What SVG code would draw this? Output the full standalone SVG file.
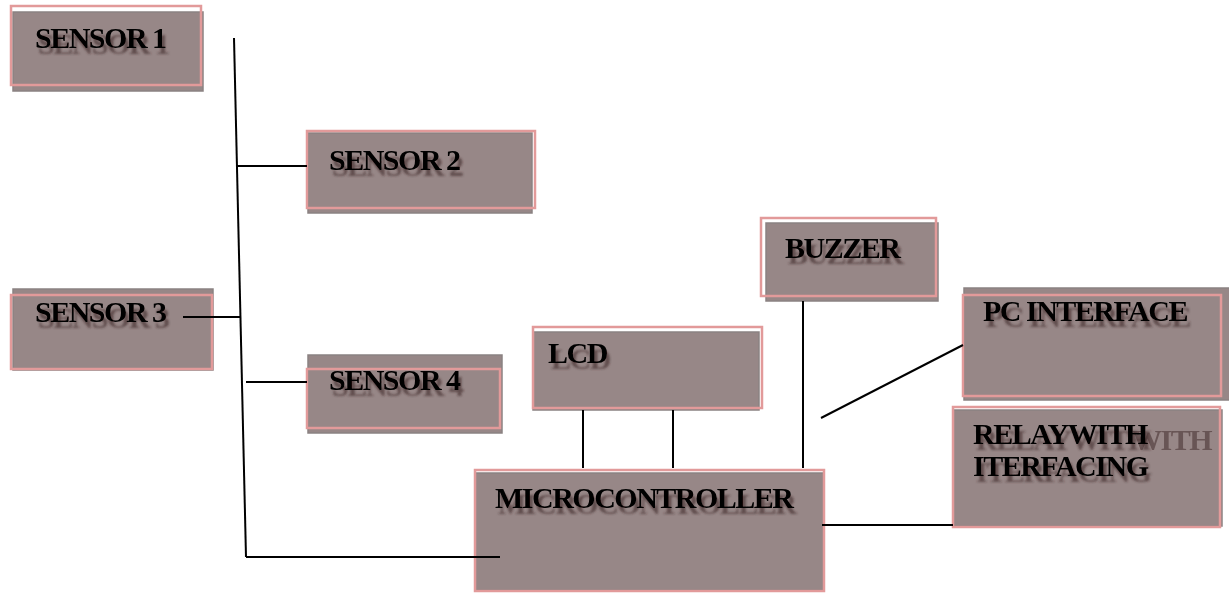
<svg xmlns="http://www.w3.org/2000/svg" width="1229" height="593" viewBox="0 0 1229 593">
<defs>
<filter id="ts" x="-10%" y="-30%" width="130%" height="180%">
<feDropShadow dx="3" dy="6" stdDeviation="1.2" flood-color="#3a2626" flood-opacity="0.6"/>
</filter>
</defs>
<style>
.bg{fill:#978787;stroke:#8a8282;stroke-width:1.5}
.ol{fill:none;stroke:#e29a9a;stroke-width:2.5}
.t{font-family:"Liberation Serif","Times New Roman",serif;font-weight:bold;font-size:30px;letter-spacing:-1.5px;fill:#000;filter:url(#ts)}
.s{font-family:"Liberation Serif","Times New Roman",serif;font-weight:bold;font-size:30px;letter-spacing:-1.5px;fill:#4a3434;opacity:0.6}
.c{stroke:#000;stroke-width:2;fill:none}
</style>
<rect width="1229" height="593" fill="#fff"/>
<g id="sensor1">
<rect class="bg" x="13" y="12" width="190" height="79"/>
<rect class="ol" x="11" y="6" width="190" height="79"/>
<text class="t" x="35" y="48">SENSOR 1</text>
</g>
<g id="sensor2">
<rect class="bg" x="308" y="133" width="224" height="80"/>
<rect class="ol" x="307" y="131" width="228" height="77"/>
<text class="t" x="329" y="170">SENSOR 2</text>
</g>
<g id="sensor3">
<rect class="bg" x="13" y="289" width="200" height="81"/>
<rect class="ol" x="11" y="295" width="201" height="74"/>
<text class="t" x="35" y="322">SENSOR 3</text>
</g>
<g id="sensor4">
<rect class="bg" x="308" y="355" width="194" height="78"/>
<rect class="ol" x="307" y="369" width="193" height="59"/>
<text class="t" x="329" y="390">SENSOR 4</text>
</g>
<g id="lcd">
<rect class="bg" x="533" y="332" width="226" height="78"/>
<rect class="ol" x="533" y="327" width="229" height="81"/>
<text class="t" x="548" y="363">LCD</text>
</g>
<g id="buzzer">
<rect class="bg" x="766" y="223" width="172" height="78"/>
<rect class="ol" x="761" y="218" width="175" height="78"/>
<text class="t" x="785" y="258">BUZZER</text>
</g>
<g id="pc-interface">
<rect class="bg" x="964" y="288" width="266" height="112"/>
<rect class="ol" x="963" y="295" width="258" height="101"/>
<text class="t" x="983" y="321">PC INTERFACE</text>
</g>
<g id="relay">
<rect class="bg" x="953" y="410" width="269" height="116"/>
<rect class="ol" x="953" y="407" width="267" height="120"/>
<text class="s" x="1132" y="450">WITH</text>
<text class="t" x="973" y="444">RELAYWITH</text>
<text class="t" x="973" y="476">ITERFACING</text>
</g>
<g id="microcontroller">
<rect class="bg" x="475" y="473" width="349" height="117"/>
<rect class="ol" x="475" y="470" width="349" height="121"/>
<text class="t" x="495" y="508">MICROCONTROLLER</text>
</g>
<g id="connectors">
<line class="c" x1="234" y1="38" x2="246" y2="557"/>
<line class="c" x1="236" y1="166" x2="307" y2="166"/>
<line class="c" x1="183" y1="317" x2="240" y2="317"/>
<line class="c" x1="246" y1="382" x2="307" y2="382"/>
<line class="c" x1="246" y1="557" x2="500" y2="557"/>
<line class="c" x1="583" y1="410" x2="583" y2="468"/>
<line class="c" x1="673" y1="410" x2="673" y2="468"/>
<line class="c" x1="803" y1="301" x2="803" y2="468"/>
<line class="c" x1="821" y1="418" x2="963" y2="345"/>
<line class="c" x1="822" y1="525" x2="953" y2="525"/>
</g>
</svg>
